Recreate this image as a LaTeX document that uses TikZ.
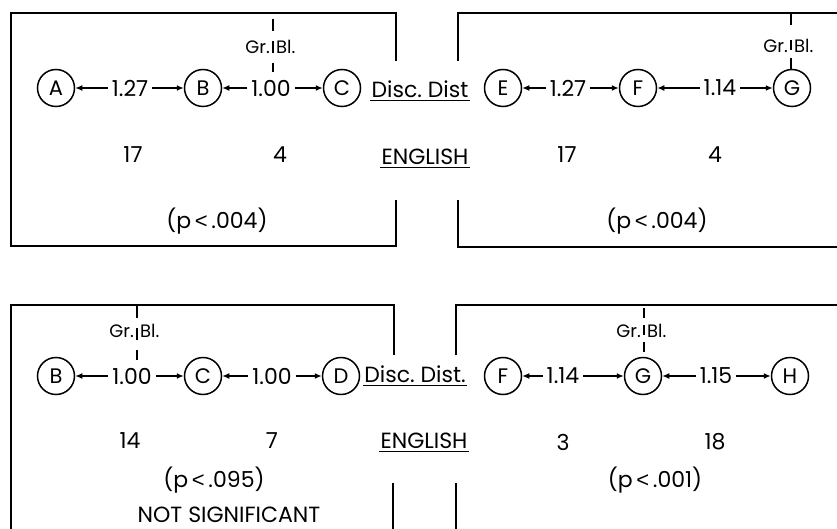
\documentclass[tikz,border=0pt]{standalone}
\usepackage{fontspec}
\setmainfont{Poppins}
\newfontfamily\ltfont{Liberation Sans}
\newcommand{\lessthan}{{\ltfont <}}
\usetikzlibrary{arrows.meta}
\begin{document}
\begin{tikzpicture}[x=1pt,y=-1pt,
  every node/.style={font=\fontsize{22}{26}\selectfont},
  circ/.style={draw, circle, line width=1.5pt, minimum size=37pt, inner sep=0pt, font=\fontsize{21}{24}\selectfont},
  lab/.style={inner sep=4pt},
  arr/.style={-{Latex[length=7pt,width=6pt]}, line width=1.5pt},
  frame/.style={line width=1.5pt},
  grbl/.style={font=\fontsize{18}{21}\selectfont, inner sep=0pt},
  divider/.style={line width=1.3pt},
  uline/.style={line width=1.4pt},
  ul/.style={inner sep=1pt}]
\useasboundingbox (0,0) rectangle (837,529);
% frames
\draw[frame] (396,61) -- (396,13) -- (11,13) -- (11,246) -- (396,246) -- (396,200);
\draw[frame] (458,61) -- (458,13) -- (837,13);
\draw[frame] (458,200) -- (458,247) -- (837,247);
\draw[frame] (394,355) -- (394,305) -- (11,305) -- (11,529);
\draw[frame] (393,483) -- (393,529);
\draw[frame] (456,355) -- (456,305) -- (837,305);
\draw[frame] (456,483) -- (456,529);
% ---- top left
\node[circ] (A1) at (56,88) {A};
\node[circ] (B1) at (203,88) {B};
\node[circ] (C1) at (342,88) {C};
\node[lab] (l1) at (130,88) {1.27};
\node[lab] (l2) at (271,88) {1.00};
\draw[arr] (l1) -- (A1); \draw[arr] (l1) -- (B1);
\draw[arr] (l2) -- (B1); \draw[arr] (l2) -- (C1);
\coordinate (g1t) at (273,19); \coordinate (g1b) at (273,72);
\draw[divider, dash pattern=on 12pt off 10pt] (g1t) -- (g1b);
\node[grbl, anchor=east] (gr1) at (270,47) {Gr.};
\node[grbl, anchor=west] (bl1) at (276,47) {Bl.};
\node (n1) at (133,155) {17};
\node (n2) at (280,155) {4};
\node (p1) at (217,221) {(p\,\lessthan\,.004)};
% middle top
\node[ul] (dd1) at (420,89) {Disc.\ Dist};
\draw[uline] ([yshift=-3pt]dd1.base west) -- ([yshift=-3pt]dd1.base east);
\node[ul] (en1) at (425,157) {ENGLISH};
\draw[uline] ([yshift=-3pt]en1.base west) -- ([yshift=-3pt]en1.base east);
% ---- top right
\node[circ] (E1) at (503,88) {E};
\node[circ] (F1) at (638,88) {F};
\node[circ] (G1) at (792,88) {G};
\node[lab] (l3) at (568,88) {1.27};
\node[lab] (l4) at (720,88) {1.14};
\draw[arr] (l3) -- (E1); \draw[arr] (l3) -- (F1);
\draw[arr] (l4) -- (F1); \draw[arr] (l4) -- (G1);
\coordinate (g2t) at (791,13); \coordinate (g2b) at (791,69);
\draw[divider, dash pattern=on 12pt off 15pt on 10pt off 8pt on 11pt off 20pt] (g2t) -- (g2b);
\node[grbl, anchor=east] (gr2) at (788,46) {Gr.};
\node[grbl, anchor=west] (bl2) at (794,46) {Bl.};
\node (n3) at (567,155) {17};
\node (n4) at (715,155) {4};
\node (p2) at (657,221) {(p\,\lessthan\,.004)};
% ---- bottom left
\node[circ] (B2) at (56,376) {B};
\node[circ] (C2) at (203,376) {C};
\node[circ] (D2) at (341,376) {D};
\node[lab] (l5) at (132,376) {1.00};
\node[lab] (l6) at (272,376) {1.00};
\draw[arr] (l5) -- (B2); \draw[arr] (l5) -- (C2);
\draw[arr] (l6) -- (C2); \draw[arr] (l6) -- (D2);
\coordinate (g3t) at (137,306); \coordinate (g3b) at (137,360);
\draw[divider, dash pattern=on 12pt off 10pt] (g3t) -- (g3b);
\node[grbl, anchor=east] (gr3) at (134,331) {Gr.};
\node[grbl, anchor=west] (bl3) at (140,331) {Bl.};
\node (n5) at (130,441) {14};
\node (n6) at (272,441) {7};
\node (p3) at (214,480) {(p\,\lessthan\,.095)};
\node (ns) at (229,515) {NOT SIGNIFICANT};
% middle bottom
\node[ul] (dd2) at (415,374) {Disc.\ Dist.};
\draw[uline] ([yshift=-3pt]dd2.base west) -- ([yshift=-3pt]dd2.base east);
\node[ul] (en2) at (424,441) {ENGLISH};
\draw[uline] ([yshift=-3pt]en2.base west) -- ([yshift=-3pt]en2.base east);
% ---- bottom right
\node[circ] (F2) at (503,376) {F};
\node[circ] (G2) at (643,376) {G};
\node[circ] (H2) at (790,376) {H};
\node[lab] (l7) at (563,376) {1.14};
\node[lab] (l8) at (716,376) {1.15};
\draw[arr] (l7) -- (F2); \draw[arr] (l7) -- (G2);
\draw[arr] (l8) -- (G2); \draw[arr] (l8) -- (H2);
\coordinate (g4t) at (644,308); \coordinate (g4b) at (644,354);
\draw[divider, dash pattern=on 10pt off 7pt] (g4t) -- (g4b);
\node[grbl, anchor=east] (gr4) at (641,331) {Gr.};
\node[grbl, anchor=west] (bl4) at (647,331) {Bl.};
\node (n7) at (563,442) {3};
\node (n8) at (715,442) {18};
\node (p4) at (655,480) {(p\,\lessthan\,.001)};
\end{tikzpicture}
\end{document}
